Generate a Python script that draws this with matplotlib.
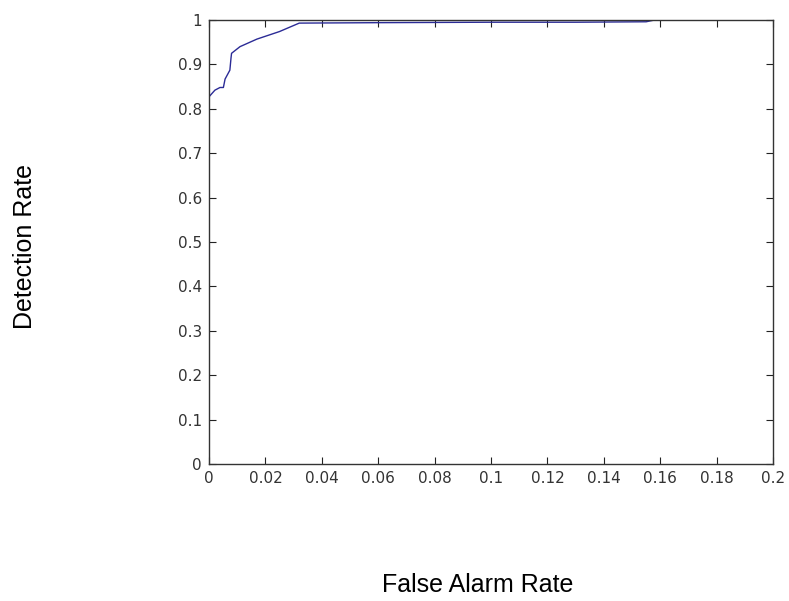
import matplotlib
matplotlib.use("Agg")
import matplotlib.pyplot as plt

# ROC curve
false_alarm = [0.0, 0.0021, 0.0039, 0.0051, 0.0057, 0.0074, 0.0078, 0.0080,
               0.011, 0.017, 0.025, 0.032, 0.060, 0.100, 0.130, 0.155, 0.158]
detection = [0.827, 0.842, 0.848, 0.848, 0.867, 0.887, 0.914, 0.925,
             0.940, 0.957, 0.974, 0.993, 0.994, 0.995, 0.995, 0.996, 1.0]

x_ticks = [0, 0.02, 0.04, 0.06, 0.08, 0.1, 0.12, 0.14, 0.16, 0.18, 0.2]
x_labels = ["0", "0.02", "0.04", "0.06", "0.08", "0.1", "0.12", "0.14", "0.16", "0.18", "0.2"]
y_ticks = [0, 0.1, 0.2, 0.3, 0.4, 0.5, 0.6, 0.7, 0.8, 0.9, 1]
y_labels = ["0", "0.1", "0.2", "0.3", "0.4", "0.5", "0.6", "0.7", "0.8", "0.9", "1"]

fig = plt.figure(figsize=(7.89, 6.01), dpi=100)
ax = fig.add_axes([209 / 789, 1 - 464 / 601, 564 / 789, 444 / 601])

ax.plot(false_alarm, detection, color="#2b2b96", linewidth=1.0)

ax.set_xlim(0, 0.2)
ax.set_ylim(0, 1)
ax.set_xticks(x_ticks)
ax.set_xticklabels(x_labels)
ax.set_yticks(y_ticks)
ax.set_yticklabels(y_labels)
ax.tick_params(direction="in", length=5, width=0.8, top=True, right=True,
               labelsize=11, pad=5, color="#222222", labelcolor="#333333")
for s in ax.spines.values():
    s.set_linewidth(1.0)
    s.set_color("#333333")

fig.text(478 / 789, 1 - 585 / 601, "False Alarm Rate", fontsize=18,
         family="Liberation Sans", ha="center", va="center")
fig.text(25 / 789, 1 - 246 / 601, "Detection Rate", fontsize=18,
         family="Liberation Sans", ha="center", va="center", rotation=90)

fig.savefig("out.png", dpi=100)
